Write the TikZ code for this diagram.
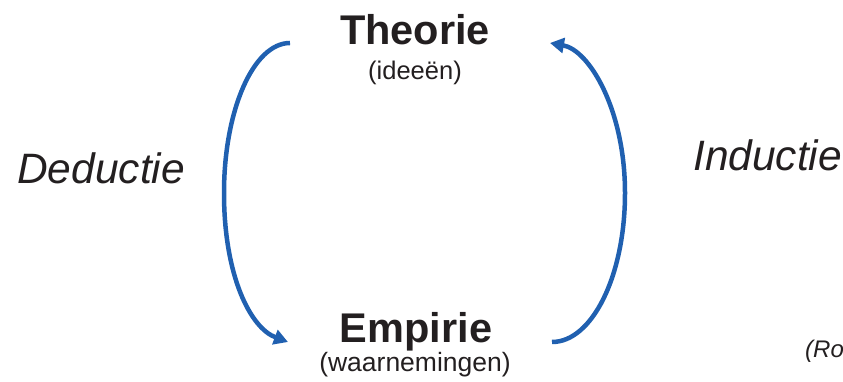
\documentclass[tikz,border=0pt]{standalone}
\usepackage{fontspec}
\setmainfont{Liberation Sans}
\usetikzlibrary{arrows.meta}
\definecolor{arcblue}{RGB}{32,96,176}
\definecolor{txt}{RGB}{35,31,32}
\tikzset{
  lbl/.style={inner sep=0pt, text=txt},
  headtxt/.style={lbl, font=\fontsize{41.5}{45}\selectfont\bfseries},
  subtxt/.style={lbl, font=\fontsize{25.5}{28}\selectfont},
  subtxtb/.style={lbl, font=\fontsize{26.5}{28}\selectfont},
  sidetxt/.style={lbl, font=\fontsize{42.5}{45}\selectfont\itshape},
  reftxt/.style={lbl, font=\fontsize{24}{26}\selectfont\itshape},
  arc/.style={draw=arcblue, line width=4.5pt, -{Triangle[length=14pt,width=15pt]}}
}
\begin{document}
\begin{tikzpicture}[x=1pt,y=1pt]
\useasboundingbox (0,0) rectangle (843,382);
\clip (0,0) rectangle (843,382);
\node[headtxt, anchor=base] (theorie) at (415,337) {Theorie};
\node[subtxt, anchor=base] (ideeen) at (415,302) {(ideeën)};
\node[headtxt, anchor=base] (empirie) at (416,39) {Empirie};
\node[subtxtb, anchor=base] (waarn) at (415,10) {(waarnemingen)};
\node[sidetxt, anchor=base west] (deductie) at (17,198) {Deductie};
\node[sidetxt, anchor=base west] (inductie) at (693,211) {Inductie};
\node[reftxt, anchor=base west] (ref) at (805,24) {(Ro};
\coordinate (ls) at (290,339);
\coordinate (le) at (288,40);
\coordinate (rs) at (552,40);
\coordinate (re) at (550,339);
\draw[arc] (ls) .. controls (253.5,339) and (224,272) .. (224,189)
  .. controls (224,106) and (250.5,54) .. (le);
\draw[arc] (rs) .. controls (592,40) and (625,106) .. (625,189)
  .. controls (625,272) and (589.4,332) .. (re);
\end{tikzpicture}
\end{document}
